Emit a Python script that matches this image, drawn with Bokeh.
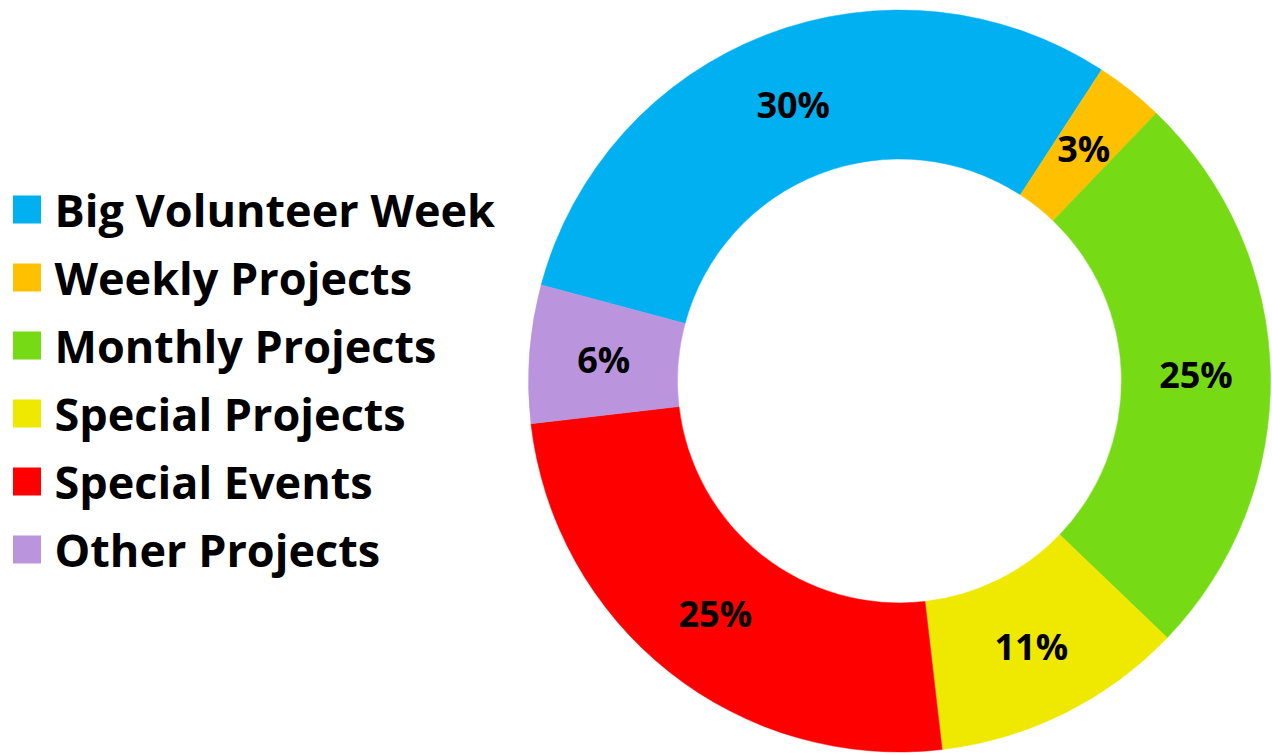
import math
from bokeh.plotting import figure
from bokeh.models import Range1d, ColumnDataSource
from bokeh.core.properties import value
from bokeh.embed import file_html
from bokeh.resources import INLINE

categories = ["Big Volunteer Week", "Weekly Projects", "Monthly Projects",
              "Special Projects", "Special Events", "Other Projects"]
shares = [30, 3, 25, 11, 25, 6]
labels = ["30%", "3%", "25%", "11%", "25%", "6%"]
colors = ["#00B0F0", "#FFC000", "#76DB15", "#EFE800", "#FF0000", "#BA95DE"]

W, H = 1272, 755
cx, cy = 899, H - 380.5
r_out, r_in = 371, 222
first_angle = -75.0  # degrees, clockwise from 12 o'clock

p = figure(width=W, height=H, output_backend="svg", toolbar_location=None,
           x_range=Range1d(0, W), y_range=Range1d(0, H), min_border=0)
p.axis.visible = False
p.grid.visible = False
p.outline_line_color = None
p.background_fill_color = "white"
p.border_fill_color = "white"

total = sum(shares)
starts, ends, lx, ly = [], [], [], []
acc = first_angle
for s in shares:
    a0 = acc
    a1 = acc + 360.0 * s / total
    acc = a1
    starts.append(math.radians(90 - a0))
    ends.append(math.radians(90 - a1))
    mid = math.radians((a0 + a1) / 2)
    rm = (r_out + r_in) / 2
    lx.append(cx + rm * math.sin(mid))
    ly.append(cy + rm * math.cos(mid))

src = ColumnDataSource(dict(start=starts, end=ends, color=colors,
                            lx=lx, ly=ly, label=labels))
p.annular_wedge(x=cx, y=cy, inner_radius=r_in, outer_radius=r_out,
                start_angle="start", end_angle="end", direction="clock",
                fill_color="color", line_color="color", line_width=0.5, source=src)
p.text(x="lx", y="ly", text="label", source=src, text_align="center",
       text_baseline="middle", text_font=value("Open Sans"), text_font_style="bold",
       text_font_size="36px", text_color="black")

# legend
row0, step = 209, 68
leg_y = [H - (row0 + i * step) for i in range(len(categories))]
lsrc = ColumnDataSource(dict(y=leg_y, color=colors, name=categories))
p.rect(x=26.5, y="y", width=28, height=28, fill_color="color", line_color=None, source=lsrc)
p.text(x=54, y="y", text="name", source=lsrc, text_align="left", text_baseline="middle",
       text_font=value("Open Sans"), text_font_style="bold", text_font_size="45px",
       text_color="black")

open("out.html", "w").write(file_html(p, INLINE))
